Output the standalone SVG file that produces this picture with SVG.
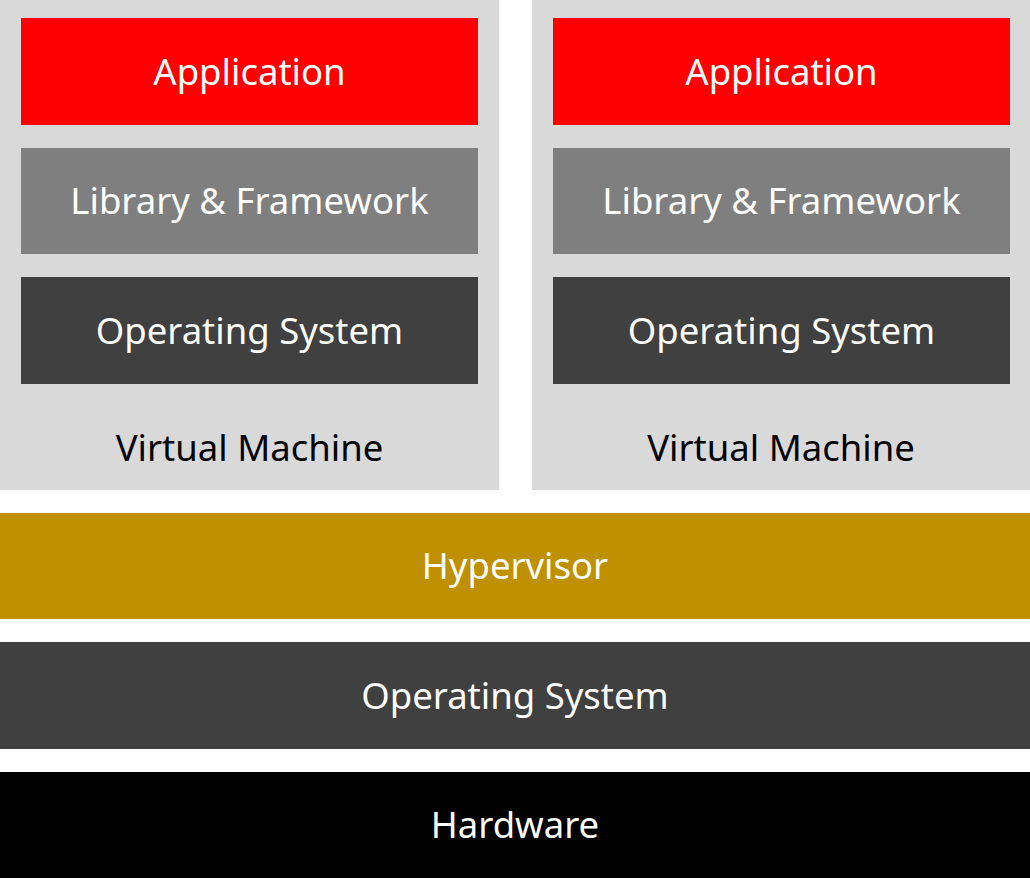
<svg xmlns="http://www.w3.org/2000/svg" width="1030" height="878" viewBox="0 0 1030 878">
<style>
text{font-family:"Noto Sans","Open Sans","DejaVu Sans",sans-serif;font-size:36.5px;text-anchor:middle;dominant-baseline:central}
.w{fill:#ffffff}
.k{fill:#000000}
.vm{fill:#d9d9d9}
.app{fill:#ff0000}
.lib{fill:#7f7f7f}
.os{fill:#404040}
.hyp{fill:#bf9000}
.hw{fill:#000000}
</style>
<rect width="1030" height="878" fill="#ffffff"/>
<g id="vm1">
<rect class="vm" x="0" y="0" width="499" height="490"/>
<text class="k" x="249.5" y="447">Virtual Machine</text>
</g>
<g id="vm2">
<rect class="vm" x="532" y="0" width="498" height="490"/>
<text class="k" x="781" y="447">Virtual Machine</text>
</g>
<g id="app1"><rect class="app" x="21" y="18" width="457" height="107"/><text class="w" x="249.5" y="71">Application</text></g>
<g id="lib1"><rect class="lib" x="21" y="148" width="457" height="106"/><text class="w" x="249.5" y="200">Library &amp; Framework</text></g>
<g id="os1"><rect class="os" x="21" y="277" width="457" height="107"/><text class="w" x="249.5" y="330">Operating System</text></g>
<g id="app2"><rect class="app" x="553" y="18" width="457" height="107"/><text class="w" x="781.5" y="71">Application</text></g>
<g id="lib2"><rect class="lib" x="553" y="148" width="457" height="106"/><text class="w" x="781.5" y="200">Library &amp; Framework</text></g>
<g id="os2"><rect class="os" x="553" y="277" width="457" height="107"/><text class="w" x="781.5" y="330">Operating System</text></g>
<g id="hypervisor"><rect class="hyp" x="0" y="513" width="1030" height="106"/><text class="w" x="515" y="565">Hypervisor</text></g>
<g id="hostos"><rect class="os" x="0" y="642" width="1030" height="107"/><text class="w" x="515" y="695">Operating System</text></g>
<g id="hardware"><rect class="hw" x="0" y="772" width="1030" height="106"/><text class="w" x="515" y="824">Hardware</text></g>
<g id="connectors"></g>
</svg>
